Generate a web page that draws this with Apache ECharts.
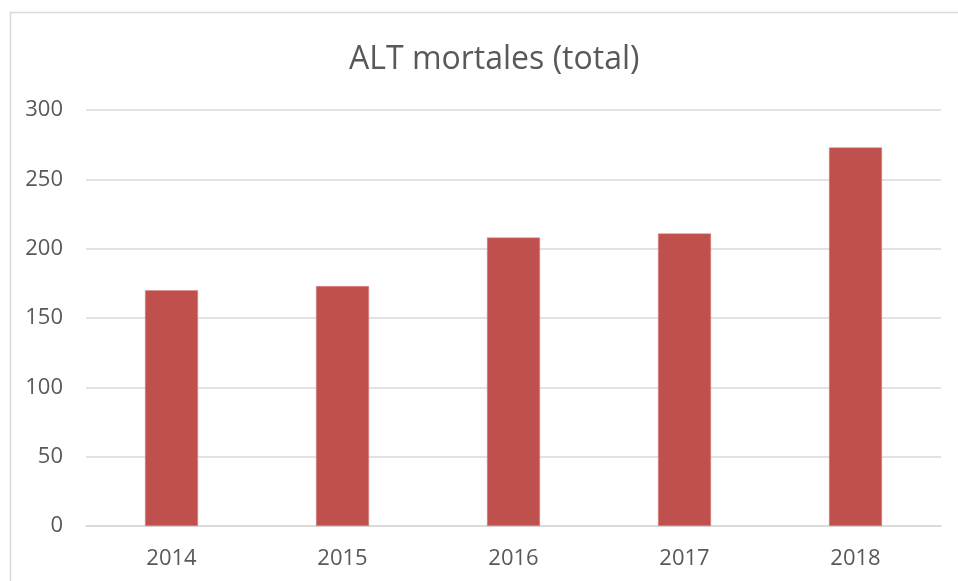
<!DOCTYPE html>
<html>
<head>
<meta charset="utf-8">
<script src="https://cdn.jsdelivr.net/npm/echarts@6/dist/echarts.min.js"></script>
<style>
  html, body { margin: 0; padding: 0; background: #fff; }
  #chart { width: 958px; height: 581px; }
</style>
</head>
<body>
<div id="chart"></div>
<script>
var years = ['2014', '2015', '2016', '2017', '2018'];
var deaths = [170, 173, 208, 211, 273];
var yTicks = [0, 50, 100, 150, 200, 250, 300];

var myChart = echarts.init(document.getElementById('chart'));
var option = {
    animation: false,
    backgroundColor: '#fff',
    title: {
        text: 'ALT mortales (total)',
        left: 344,
        top: 39,
        textStyle: {
            fontFamily: 'Open Sans',
            fontSize: 32,
            fontWeight: 'normal',
            color: '#595959'
        }
    },
    graphic: [{
        type: 'rect',
        shape: { x: 10.5, y: 12.5, width: 1000, height: 1000 },
        style: { fill: 'none', stroke: '#d9d9d9', lineWidth: 1.5 },
        silent: true
    }],
    grid: { left: 86, right: 17, top: 110, bottom: 55 },
    xAxis: {
        type: 'category',
        data: years,
        axisLine: { show: true, lineStyle: { color: '#d9d9d9', width: 1.5 } },
        axisTick: { show: false },
        axisLabel: { color: '#595959', fontSize: 22, fontFamily: 'Open Sans', margin: 22 }
    },
    yAxis: {
        type: 'value',
        min: yTicks[0],
        max: yTicks[yTicks.length - 1],
        interval: 50,
        axisLine: { show: false },
        axisTick: { show: false },
        splitLine: { lineStyle: { color: '#d9d9d9', width: 1.5 } },
        axisLabel: { color: '#595959', fontSize: 22, fontFamily: 'Open Sans', margin: 23 }
    },
    series: [{
        type: 'bar',
        data: deaths,
        barWidth: 53,
        itemStyle: { color: '#C0504D', borderColor: '#d88a88', borderWidth: 0.5 }
    }]
};
myChart.setOption(option);
</script>
</body>
</html>
